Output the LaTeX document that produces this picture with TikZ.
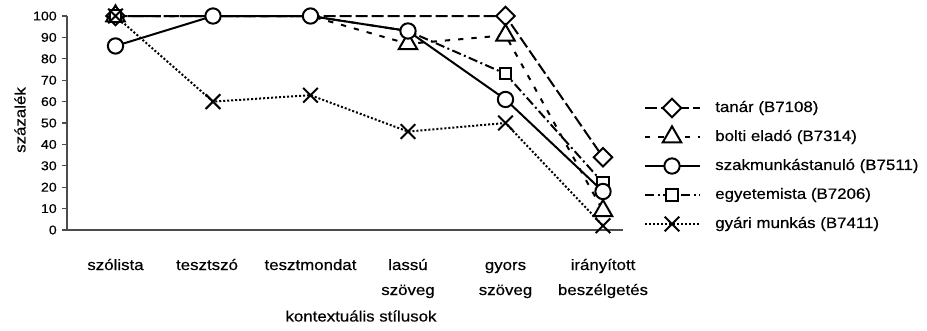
\documentclass[tikz,border=0pt]{standalone}
\usepackage{fontspec}
\setmainfont{Liberation Sans}[FakeStretch=1.12, FakeBold=0.4]
\usetikzlibrary{shapes.geometric,shapes.misc}
\tikzset{
    % axis lines
    axis/.style={line width=0.8pt, draw=black!70},
    % texts
    ticklab/.style={anchor=east, inner sep=0pt, font=\fontsize{9.5}{11}\selectfont},
    axlab/.style={inner sep=0pt, font=\fontsize{11.3}{14}\selectfont},
    catlab/.style={anchor=base, align=center, inner sep=0pt, font=\fontsize{11.3}{18.75}\selectfont},
    leglab/.style={anchor=west, inner sep=0pt, font=\fontsize{11.3}{14}\selectfont},
    % series lines
    ser/.style={line width=1.5pt, line join=round},
    tanar/.style={ser, dash pattern=on 9pt off 3pt},
    bolti/.style={ser, dash pattern=on 4pt off 6pt},
    szakm/.style={ser},
    egyet/.style={ser, dash pattern=on 7pt off 2.5pt on 1.5pt off 2.5pt},
    gyari/.style={ser, dash pattern=on 1.5pt off 1.5pt},
    % markers
    mkbase/.style={draw, solid, line width=1.5pt, inner sep=0pt},
    mkdia/.style={mkbase, diamond, fill=white, minimum size=14.5pt},
    mktri/.style={mkbase, regular polygon, regular polygon sides=3, fill=white, minimum size=16pt},
    mkcirc/.style={mkbase, circle, fill=white, minimum size=11.5pt},
    mksq/.style={mkbase, rectangle, fill=white, minimum size=8.5pt},
    mkcross/.style={mkbase, cross out, minimum size=9.5pt}
}
\begin{document}
\begin{tikzpicture}[x=0.75pt, y=-0.75pt]
\useasboundingbox (0,0) rectangle (927,330);

% axes and ticks
\draw[axis] (67,16) -- (67,230) -- (623,230);
\foreach \v in {0,10,...,100}{
  \draw[axis] (62,{230-2.14*\v}) -- (67,{230-2.14*\v});
  \node[ticklab] (tick\v) at (57,{230-2.14*\v}) {\v};
}
\node[axlab, rotate=90] (ylab) at (20,120) {százalék};
\node[axlab] (xlab) at (361,316) {kontextuális stílusok};

% category labels (base = last line)
\foreach \x/\y/\t [count=\i] in {115.5/270/szólista, 207/270/tesztszó, 310.5/270/tesztmondat,
    408/295/lassú\\szöveg, 505.5/295/gyors\\szöveg, 603/295/irányított\\beszélgetés}
  \node[catlab] (cat\i) at (\x,\y) {\t};

% data
\begin{scope}[shift={(0,230)}, yscale=-2.14]
\draw[tanar] plot coordinates {(115.5,100) (213,100) (310.5,100) (408,100) (505.5,100) (603,34)};
\draw[bolti] plot coordinates {(115.5,100) (213,100) (310.5,100) (408,87) (505.5,91) (603,9)};
\draw[egyet] plot coordinates {(115.5,100) (213,100) (310.5,100) (408,93) (505.5,73) (603,22)};
\draw[gyari] plot coordinates {(115.5,100) (213,60) (310.5,63) (408,46) (505.5,50) (603,2)};
\draw[szakm] plot coordinates {(115.5,86) (213,100) (310.5,100) (408,93) (505.5,61) (603,18)};

\foreach \x/\v [count=\i] in {115.5/100, 505.5/100, 603/34}
  \node[mkdia] (tan\i) at (\x,\v) {};
\foreach \x/\v [count=\i] in {115.5/100, 408/87, 505.5/91, 603/9}
  \node[mktri] (bol\i) at (\x,\v) {};
\foreach \x/\v [count=\i] in {115.5/100, 505.5/73, 603/22}
  \node[mksq] (egy\i) at (\x,\v) {};
\foreach \x/\v [count=\i] in {115.5/86, 213/100, 310.5/100, 408/93, 505.5/61, 603/18}
  \node[mkcirc] (szak\i) at (\x,\v) {};
\foreach \x/\v [count=\i] in {115.5/100, 213/60, 310.5/63, 408/46, 505.5/50, 603/2}
  \node[mkcross] (gyar\i) at (\x,\v) {};
\end{scope}

% legend
\foreach \st/\mk/\t [count=\i] in {tanar/mkdia/{tanár (B7108)}, bolti/mktri/{bolti eladó (B7314)},
    szakm/mkcirc/{szakmunkástanuló (B7511)}, egyet/mksq/{egyetemista (B7206)},
    gyari/mkcross/{gyári munkás (B7411)}}{
  \pgfmathsetmacro\ly{108+29*(\i-1)}
  \draw[\st] (645,\ly) -- (700,\ly);
  \node[\mk] (leg\i) at (672,\ly) {};
  \node[leglab] (legt\i) at (715,\ly) {\t};
}
\end{tikzpicture}
\end{document}
